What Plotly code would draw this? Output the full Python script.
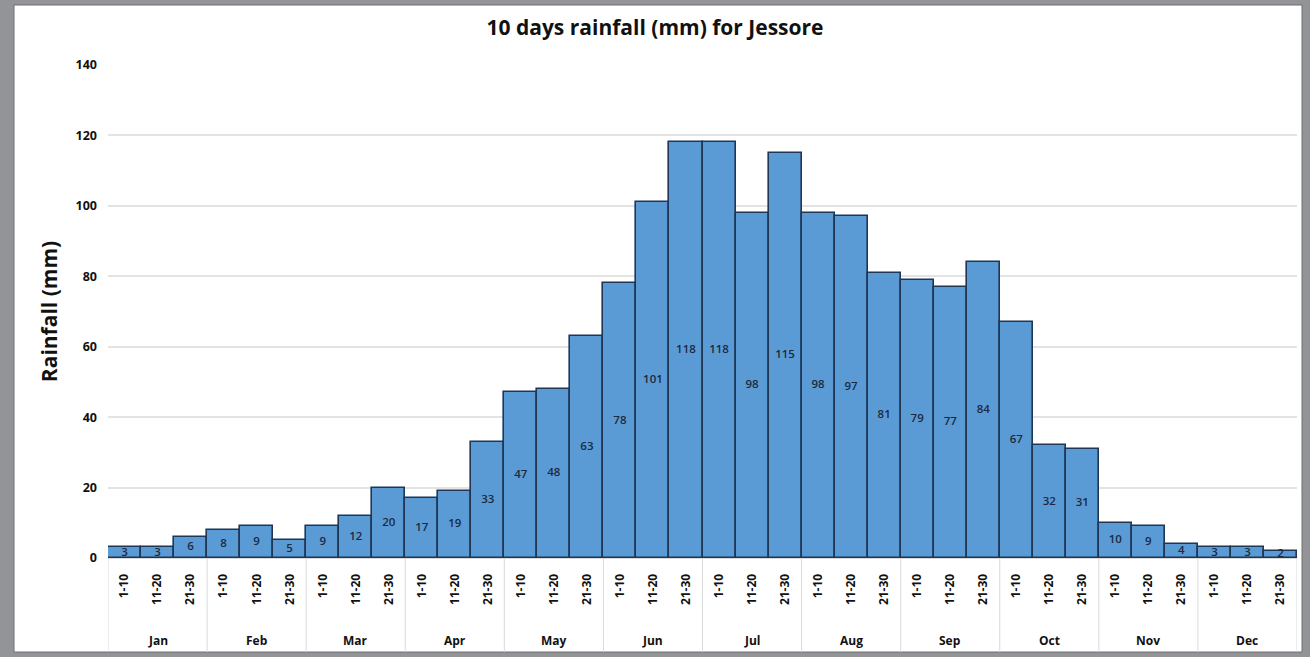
import plotly.graph_objects as go

months = ["Jan", "Feb", "Mar", "Apr", "May", "Jun",
          "Jul", "Aug", "Sep", "Oct", "Nov", "Dec"]
dekads = ["1-10", "11-20", "21-30"]
rainfall = [3, 3, 6, 8, 9, 5, 9, 12, 20, 17, 19, 33,
            47, 48, 63, 78, 101, 118, 118, 98, 115, 98, 97, 81,
            79, 77, 84, 67, 32, 31, 10, 9, 4, 3, 3, 2]
y_ticks = [0, 20, 40, 60, 80, 100, 120, 140]

dekad_labels = [d for _ in months for d in dekads]
pos = list(range(len(rainfall)))

W, H = 1310, 657
ML, MR, MT, MB = 108, 13, 65, 99
PW, PH = W - ML - MR, H - MT - MB


def px_x(p):
    return (p - ML) / PW


def px_y(p):
    return (H - MB - p) / PH


FONT = "Open Sans"
INK = "#111111"

fig = go.Figure()
fig.add_trace(go.Bar(
    x=pos, y=rainfall, width=1,
    marker=dict(color="#5b9bd5", line=dict(color="#1f3655", width=1.6)),
    hoverinfo="y", showlegend=False,
))
# value labels sit at mid-height of each bar
fig.add_trace(go.Scatter(
    x=pos, y=[v / 2 for v in rainfall],
    mode="text", text=[str(v) for v in rainfall],
    textfont=dict(family=FONT, size=11.5, color="#1b2a3f", weight=600),
    textposition="middle center", hoverinfo="skip", showlegend=False,
))

shapes = [dict(type="rect", xref="paper", yref="paper", layer="below",
               x0=px_x(14), x1=px_x(1302), y0=px_y(652), y1=px_y(5),
               fillcolor="white", line=dict(color="#6e6f72", width=1))]
annotations = []
n_d = len(dekads)
for i, m in enumerate(months):
    # month group divider and centred month name
    shapes.append(dict(type="line", xref="x", yref="paper", layer="below",
                       x0=i * n_d - 0.5, x1=i * n_d - 0.5,
                       y0=px_y(652), y1=0,
                       line=dict(color="#d9d9d9", width=1)))
    annotations.append(dict(x=i * n_d + (n_d - 1) / 2, y=px_y(640),
                            xref="x", yref="paper", text=f"<b>{m}</b>",
                            showarrow=False, xanchor="center",
                            yanchor="middle",
                            font=dict(family=FONT, size=12, color=INK)))
shapes.append(dict(type="line", xref="x", yref="paper", layer="below",
                   x0=len(rainfall) - 0.5, x1=len(rainfall) - 0.5,
                   y0=px_y(652), y1=0,
                   line=dict(color="#d9d9d9", width=1)))

fig.update_layout(
    width=W, height=H,
    margin=dict(l=ML, r=MR, t=MT, b=MB),
    paper_bgcolor="#939497", plot_bgcolor="rgba(0,0,0,0)",
    bargap=0,
    title=dict(text="<b>10 days rainfall (mm) for Jessore</b>",
               x=0.5, xanchor="center", y=1 - 28 / H, yanchor="middle",
               font=dict(family=FONT, size=21, color=INK)),
    shapes=shapes, annotations=annotations,
)
fig.update_yaxes(
    range=[0, 140], tickvals=y_ticks, showgrid=True,
    gridcolor="#e3e3e3", gridwidth=1.5, zeroline=False, showline=False,
    ticks="", ticklabelstandoff=10,
    tickfont=dict(family=FONT, size=12.5, color=INK, weight="bold"),
    title=dict(text="<b>Rainfall (mm)</b>", standoff=12,
               font=dict(family=FONT, size=21, color=INK)),
)
fig.update_xaxes(
    range=[-0.5, len(rainfall) - 0.5], tickvals=pos, ticktext=dekad_labels,
    tickangle=-90, showgrid=False, zeroline=False,
    showline=True, linecolor="#d9d9d9", linewidth=1,
    ticks="", ticklabelstandoff=10,
    tickfont=dict(family=FONT, size=12, color=INK, weight="bold"),
)

fig.write_html("out.html")
